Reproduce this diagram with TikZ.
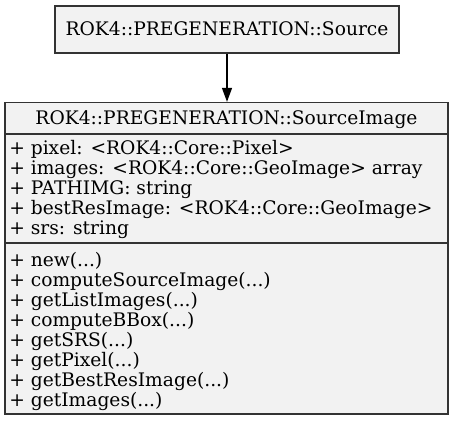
\documentclass[tikz,border=0pt]{standalone}
\usepackage{fontspec}
\setmainfont{DejaVu Serif}
\usetikzlibrary{arrows.meta,fit}
\definecolor{boxfill}{HTML}{F2F2F2}
\definecolor{boxline}{HTML}{333333}
\begin{document}
\begin{tikzpicture}[x=0.75pt,y=-0.75pt,
  classbox/.style={draw=boxline, fill=boxfill, line width=1pt, inner sep=0pt, rectangle},
  title/.style={font=\fontsize{14}{15}\selectfont, inner sep=0pt, anchor=base},
  member/.style={font=\fontsize{14}{15}\selectfont, inner sep=0pt, anchor=base west},
  sep/.style={draw=boxline, line width=1pt},
  link/.style={draw=black, line width=1pt, -{Triangle[length=10.5pt,width=7.5pt]}}]
\useasboundingbox (0,0) rectangle (453,421);
% top class
\node[classbox, fit={(55,6) (399,53)}] (src) {};
\node[title] (srct) at (227,36) {ROK4::PREGENERATION::Source};
% bottom class
\node[classbox, fit={(5,102.5) (448,414)}] (img) {};
\node[title] (imgt) at (226.5,124) {ROK4::PREGENERATION::SourceImage};
\draw[sep] (5,134) -- (448,134);
\draw[sep] (5,243) -- (448,243);
\node[member] (a1) at (9,154) {+ pixel: <ROK4::Core::Pixel>};
\node[member] (a2) at (9,174) {+ images: <ROK4::Core::GeoImage> array};
\node[member] (a3) at (9,194) {+ PATHIMG: string};
\node[member] (a4) at (9,214) {+ bestResImage: <ROK4::Core::GeoImage>};
\node[member] (a5) at (9,234) {+ srs: string};
\node[member] (m1) at (9,266) {+ new(...)};
\node[member] (m2) at (9,286) {+ computeSourceImage(...)};
\node[member] (m3) at (9,306) {+ getListImages(...)};
\node[member] (m4) at (9,326) {+ computeBBox(...)};
\node[member] (m5) at (9,346) {+ getSRS(...)};
\node[member] (m6) at (9,366) {+ getPixel(...)};
\node[member] (m7) at (9,386) {+ getBestResImage(...)};
\node[member] (m8) at (9,406) {+ getImages(...)};
% connector
\draw[link] (src.south) -- (src.south |- img.north);
\end{tikzpicture}
\end{document}
